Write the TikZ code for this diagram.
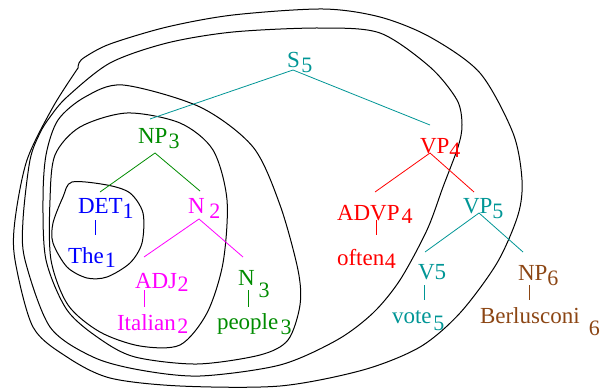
\documentclass[tikz,border=0pt]{standalone}
\usepackage{fontspec}
\setmainfont{Liberation Serif}
\usetikzlibrary{calc}
\definecolor{cteal}{RGB}{0,150,150}
\definecolor{cgreen}{RGB}{0,140,0}
\definecolor{cblue}{RGB}{0,0,255}
\definecolor{cmag}{RGB}{255,0,255}
\definecolor{cred}{RGB}{255,0,0}
\definecolor{cbrown}{RGB}{140,70,20}
\newcommand\sbs[3]{\hspace{#1pt}\raisebox{-#2pt}{\fontsize{22}{22}\selectfont #3}}
\begin{document}
\begin{tikzpicture}[x=1pt,y=-1pt,
  lab/.style={anchor=base west,inner sep=0pt,outer sep=0pt,font=\fontsize{23}{27}\selectfont},
  edge/.style={line width=0.8pt},
  region/.style={line width=1pt,black}]
\useasboundingbox[fill=white] (0,0) rectangle (607,388);

% regions
\draw[region] plot[smooth cycle] coordinates {(72,182) (107,185) (130,193) (143,213) (142,243) (130,263) (107,277) (87,278) (67,267) (53,243) (53,223) (63,197)};
\draw[region] plot[smooth cycle] coordinates {(127,113) (180,123) (213,150) (227,200) (223,263) (207,313) (180,345) (140,346) (100,332) (68,305) (51,260) (50,200) (55,155) (80,127)};
\draw[region] plot[smooth cycle] coordinates {(123,85) (200,107) (253,147) (280,205) (298,270) (300,305) (288,340) (260,355) (197,364) (135,357) (100,339) (67,310) (46,260) (43,200) (46,155) (58,120) (85,97)};
\draw[region] plot[smooth cycle] coordinates {(110,63) (167,43) (233,32) (320,28) (380,33) (430,67) (457,100) (462,125) (458,147) (443,187) (427,230) (400,280) (373,313) (337,340) (280,365) (200,376) (140,370) (93,357) (50,327) (25,260) (23,220) (30,160) (40,133) (50,117) (67,97)};
\draw[region] plot[smooth] coordinates {(78,68) (53,107) (27,160) (15,220) (15,260) (33,327) (67,357) (110,378) (180,386) (280,386) (363,370) (420,347) (460,313) (497,263) (518,215) (522,180) (513,133) (480,73) (430,37) (380,17) (323,9) (233,15) (167,27) (110,44) (85,57) (79,63) (78,68)};

% labels
\node[lab,cteal] (S) at (287,67) {S\sbs{1.5}{5}{5}};
\node[lab,cgreen] (NP) at (138,143) {NP\sbs{1.3}{5}{3}};
\node[lab,cblue] (DET) at (78,213) {DET\sbs{0}{5}{1}};
\node[lab,cblue] (The) at (68,263) {The\sbs{1}{4}{1}};
\node[lab,cmag] (N2) at (188,213) {N\sbs{4.8}{5}{2}};
\node[lab,cmag] (ADJ) at (135,288) {ADJ\sbs{0.4}{3}{2}};
\node[lab,cmag] (Ital) at (117,330) {Italian\sbs{1.6}{3}{2}};
\node[lab,cgreen] (N3) at (238,285) {N\sbs{4}{12}{3}};
\node[lab,cgreen] (ppl) at (217,329) {people\sbs{2.4}{5}{3}};
\node[lab,cred] (VPf) at (420,153) {VP\sbs{0}{4}{4}};
\node[lab,cred] (ADVP) at (337,220) {ADVP\sbs{2}{3}{4}};
\node[lab,cred] (often) at (337,265) {often\sbs{0.5}{3}{4}};
\node[lab,cteal] (VPv) at (463,213) {VP\sbs{0}{5}{5}};
\node[lab,cteal] (V) at (418,279) {V5};
\node[lab,cteal] (vote) at (392,323) {vote\sbs{1.7}{7}{5}};
\node[lab,cbrown] (NPs) at (518,280) {NP\sbs{0}{5}{6}};
\node[lab,cbrown] (Berl) at (480,323) {Berlusconi\sbs{9.3}{12}{6}};

% attachment points
\coordinate (S-b) at ($(S.base west)+(6,3)$);
\coordinate (NP-t) at ($(NP.base west)+(12,-24)$);
\coordinate (NP-b) at ($(NP.base west)+(17,10)$);
\coordinate (DET-t) at ($(DET.base west)+(22,-21)$);
\coordinate (DET-b) at ($(DET.base west)+(17,7)$);
\coordinate (The-t) at ($(The.base west)+(27,-28)$);
\coordinate (N2-t) at ($(N2.base west)+(12,-22)$);
\coordinate (N2-b) at ($(N2.base west)+(11,6)$);
\coordinate (ADJ-t) at ($(ADJ.base west)+(9,-31)$);
\coordinate (ADJ-b) at ($(ADJ.base west)+(9,2)$);
\coordinate (Ital-t) at ($(Ital.base west)+(27,-23)$);
\coordinate (N3-t) at ($(N3.base west)+(5,-28)$);
\coordinate (N3-b) at ($(N3.base west)+(10,5)$);
\coordinate (ppl-t) at ($(ppl.base west)+(31,-22)$);
\coordinate (VPf-t) at ($(VPf.base west)+(10,-28)$);
\coordinate (VPf-b) at ($(VPf.base west)+(10,0)$);
\coordinate (ADVP-t) at ($(ADVP.base west)+(38,-28)$);
\coordinate (ADVP-b) at ($(ADVP.base west)+(39,0)$);
\coordinate (often-t) at ($(often.base west)+(39,-30)$);
\coordinate (VPv-t) at ($(VPv.base west)+(11,-21)$);
\coordinate (VPv-b) at ($(VPv.base west)+(16,0)$);
\coordinate (V-t) at ($(V.base west)+(7,-27)$);
\coordinate (V-b) at ($(V.base west)+(6,6)$);
\coordinate (vote-t) at ($(vote.base west)+(32,-23)$);
\coordinate (NPs-t) at ($(NPs.base west)+(5,-28)$);
\coordinate (NPs-b) at ($(NPs.base west)+(11,5)$);
\coordinate (Berl-t) at ($(Berl.base west)+(49,-23)$);

% tree edges
\draw[edge,cteal] (NP-t) -- (S-b) -- (VPf-t);
\draw[edge,cgreen] (DET-t) -- (NP-b) -- (N2-t);
\draw[edge,cblue] (DET-b) -- (The-t);
\draw[edge,cmag] (ADJ-t) -- (N2-b) -- (N3-t);
\draw[edge,cmag] (ADJ-b) -- (Ital-t);
\draw[edge,cgreen] (N3-b) -- (ppl-t);
\draw[edge,cred] (ADVP-t) -- (VPf-b) -- (VPv-t);
\draw[edge,cred] (ADVP-b) -- (often-t);
\draw[edge,cteal] (V-t) -- (VPv-b) -- (NPs-t);
\draw[edge,cteal] (V-b) -- (vote-t);
\draw[edge,cbrown] (NPs-b) -- (Berl-t);
\end{tikzpicture}
\end{document}
